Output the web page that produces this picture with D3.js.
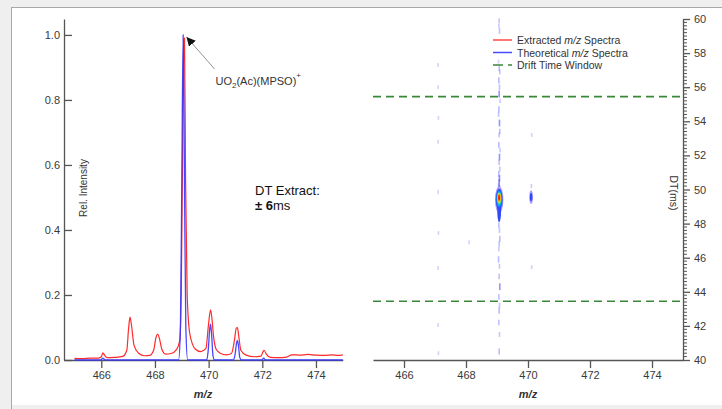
<!DOCTYPE html>
<html><head><meta charset="utf-8">
<script src="https://cdn.jsdelivr.net/npm/d3@7"></script>
<style>
html,body{margin:0;padding:0;background:#efefef;}
svg{display:block;font-family:"Liberation Sans",Arial,sans-serif;}
</style></head>
<body>
<script>
// ---------- DATA ----------
const mzTicks = [466, 468, 470, 472, 474];
const intensityTicks = [0, 0.2, 0.4, 0.6, 0.8, 1.0];
const dtTicks = [40, 42, 44, 46, 48, 50, 52, 54, 56, 58, 60];

// extracted m/z spectrum (red)
const extractedMz = [465.0,465.3,465.6,465.9,466.0,466.06,466.12,466.22,466.5,466.8,466.95,467.02,467.07,467.12,467.22,467.4,467.6,467.8,467.95,468.04,468.1,468.16,468.26,468.4,468.6,468.8,468.92,468.98,469.03,469.07,469.1,469.14,469.2,469.3,469.5,469.7,469.9,469.99,470.07,470.12,470.18,470.28,470.45,470.65,470.85,470.96,471.03,471.07,471.12,471.2,471.4,471.7,471.95,472.03,472.07,472.15,472.3,472.6,472.9,473.1,473.4,473.7,474.0,474.3,474.6,474.8,475.0];
const extractedInt = [0.005,0.004,0.006,0.006,0.010,0.022,0.015,0.007,0.008,0.011,0.030,0.100,0.132,0.110,0.045,0.020,0.013,0.014,0.030,0.070,0.080,0.068,0.032,0.018,0.020,0.032,0.058,0.210,0.650,0.985,0.990,0.560,0.200,0.080,0.034,0.026,0.036,0.105,0.154,0.130,0.075,0.033,0.020,0.016,0.020,0.060,0.098,0.100,0.075,0.030,0.015,0.010,0.012,0.026,0.030,0.018,0.008,0.007,0.009,0.016,0.015,0.017,0.015,0.014,0.016,0.014,0.016];

// theoretical m/z spectrum (blue)
const theoMz = [465.0,465.98,466.03,466.06,466.09,466.14,468.88,468.95,469.0,469.05,469.1,469.15,469.22,469.93,469.99,470.04,470.07,470.11,470.16,470.22,470.93,470.99,471.04,471.07,471.11,471.16,471.22,471.98,472.05,472.12,475.0];
const theoInt = [0,0,0.004,0.006,0.004,0,0,0.10,0.55,1.0,0.55,0.10,0,0,0.035,0.095,0.110,0.080,0.015,0,0,0.020,0.052,0.060,0.045,0.008,0,0,0.006,0,0];

// drift-time window (ms)
const dtWindow = [43.45, 55.45];

// 2-D drift-time map: contour levels of the two features [mz, dt, mzHalfWidth, dtHalfWidth, level]
const mainFeature = [
  [469.07, 49.40, 0.135, 0.78, 0],
  [469.07, 48.70, 0.060, 0.60, 1],
  [469.07, 49.42, 0.110, 0.62, 1],
  [469.07, 49.45, 0.090, 0.49, 2],
  [469.07, 49.47, 0.072, 0.39, 3],
  [469.07, 49.50, 0.058, 0.30, 4],
  [469.07, 49.52, 0.045, 0.23, 5],
  [469.07, 49.52, 0.032, 0.17, 6]
];
const minorFeature = [
  [470.10, 49.55, 0.060, 0.40, 0],
  [470.10, 49.55, 0.040, 0.24, 1]
];
// scattered low-intensity signal [mz, dt, relative level]
const noiseMz = [469.07,469.06,469.08,469.05,469.07,469.09,469.06,469.08,469.07,469.10,469.06,469.05,469.08,469.09,469.07,469.06,469.10,469.08,469.07,469.09,469.06,469.08,469.07,469.05,469.08,
  469.07,469.06,469.08,469.09,469.07,469.06,469.05,469.08,469.07,469.09,469.06,469.08,469.07,469.06,469.08,469.07,
  467.10,467.10,467.11,467.10,467.10,467.11,467.10,467.10,467.11, 468.10, 470.12,470.11,470.12];
const noiseDt = [59.9,59.6,59.3,57.5,57.1,56.9,56.4,56.0,55.6,55.2,54.7,54.4,53.9,53.4,53.2,52.6,52.3,51.9,51.6,51.2,50.9,50.65,50.4,50.2,50.05,
  48.3,47.9,47.6,47.1,46.8,46.5,45.9,45.5,44.9,44.3,43.7,43.2,42.9,42.2,41.5,40.5,
  57.3,56.0,54.2,52.8,49.85,47.45,45.4,42.05,40.4, 46.9, 53.2,50.2,45.45];
const noiseLevel = [0.5,0.4,0.6,0.3,0.6,0.5,0.7,0.6,0.8,0.4,0.7,0.5,0.8,0.6,0.5,0.7,0.4,0.8,0.6,0.5,0.7,0.8,0.9,0.7,0.9,
  0.8,0.6,0.5,0.7,0.6,0.4,0.7,0.5,0.6,0.8,0.6,0.5,0.7,0.6,0.5,0.7,
  0.3,0.3,0.3,0.3,0.3,0.3,0.3,0.3,0.3, 0.3, 0.3,0.4,0.3];

// legend
const legendLabels = [["Extracted ", "m/z", " Spectra"], ["Theoretical ", "m/z", " Spectra"], ["Drift Time Window", "", ""]];
const levelColors = ["#a898ff", "#3048ff", "#0098ff", "#28d0a0", "#d8e820", "#ff9800", "#ff2000"];

// ---------- DRAW ----------
const W = 722, H = 409;
const svg = d3.select("body").append("svg").attr("width", W).attr("height", H);

// panel
svg.append("rect").attr("x", 11).attr("y", 7).attr("width", W).attr("height", 398).attr("fill", "#ffffff");
svg.append("line").attr("x1", 11).attr("x2", W).attr("y1", 7.5).attr("y2", 7.5).attr("stroke", "#a8a8a8");
svg.append("line").attr("x1", 11.5).attr("x2", 11.5).attr("y1", 7).attr("y2", H).attr("stroke", "#a8a8a8");

const axisColor = "#555";
function styleAxis(g) {
  g.selectAll("path,line").attr("stroke", axisColor).attr("stroke-width", 1.3);
  g.selectAll("text").attr("fill", "#3a3a3a").attr("font-size", 11).attr("font-family", "Liberation Sans, Arial, sans-serif");
}

// ----- left spectrum -----
const xL = d3.scaleLinear().domain([464.61, 475]).range([64, 342.8]);
const yL = d3.scaleLinear().domain([0, 1.049]).range([360, 19]);

const gxL = svg.append("g").attr("transform", "translate(0,360)")
  .call(d3.axisBottom(xL).tickValues(mzTicks).tickFormat(d3.format("d")).tickSize(8).tickSizeOuter(0).tickPadding(3));
styleAxis(gxL);
const gyL = svg.append("g").attr("transform", "translate(64,0)")
  .call(d3.axisLeft(yL).tickValues(intensityTicks).tickFormat(d3.format(".1f")).tickSizeInner(-8).tickSizeOuter(0).tickPadding(4));
styleAxis(gyL);

const lineL = d3.line().x((d) => xL(d[0])).y((d) => yL(d[1])).curve(d3.curveMonotoneX);
svg.append("path").datum(d3.zip(extractedMz, extractedInt)).attr("d", lineL)
  .attr("fill", "none").attr("stroke", "#ff2a2a").attr("stroke-width", 1.2);
svg.append("path").datum(d3.zip(theoMz, theoInt)).attr("d", lineL)
  .attr("fill", "none").attr("stroke", "#3333ff").attr("stroke-width", 1.3).attr("opacity", 0.9);

svg.append("text").attr("x", 203).attr("y", 398).attr("text-anchor", "middle")
  .attr("font-size", 11).attr("font-weight", "bold").attr("font-style", "italic").attr("fill", "#333").text("m/z");
svg.append("text").attr("transform", "translate(87,188) rotate(-90)").attr("text-anchor", "middle")
  .attr("font-size", 10).attr("fill", "#333").text("Rel. Intensity");

// annotation
const tipX = xL(469.1) + 2, tipY = yL(1.0) + 2;
svg.append("defs").append("marker").attr("id", "ah").attr("viewBox", "0 0 10 10").attr("refX", 10).attr("refY", 5)
  .attr("markerWidth", 9).attr("markerHeight", 9).attr("markerUnits", "userSpaceOnUse").attr("orient", "auto")
  .append("path").attr("d", "M0,0 L10,5 L0,10 z").attr("fill", "#111");
svg.append("line").attr("x1", tipX + 28).attr("y1", tipY + 32).attr("x2", tipX).attr("y2", tipY)
  .attr("stroke", "#777").attr("stroke-width", 0.8).attr("marker-end", "url(#ah)");
const ann = svg.append("text").attr("x", tipX + 29).attr("y", 85).attr("font-size", 11).attr("fill", "#333");
ann.append("tspan").text("UO");
ann.append("tspan").attr("font-size", 8).attr("dy", 3).text("2");
ann.append("tspan").attr("dy", -3).text("(Ac)(MPSO)");
ann.append("tspan").attr("font-size", 8).attr("dy", -7).text("+");

svg.append("text").attr("x", 255).attr("y", 195).attr("font-size", 13).attr("fill", "#111").text("DT Extract:");
const dtt = svg.append("text").attr("x", 255).attr("y", 210).attr("font-size", 13).attr("fill", "#111");
dtt.append("tspan").attr("font-weight", "bold").text("± 6");
dtt.append("tspan").text("ms");

// ----- right map -----
const xR = d3.scaleLinear().domain([465, 475]).range([373, 683]);
const yR = d3.scaleLinear().domain([40, 60]).range([360, 19]);

// scattered signal
svg.append("g").selectAll("rect").data(d3.zip(noiseMz, noiseDt, noiseLevel)).join("rect")
  .attr("x", (d) => xR(d[0]) - 0.8).attr("y", (d) => yR(d[1]) - 1 - d[2] * 3)
  .attr("width", 1.6).attr("height", (d) => 2 + d[2] * 6)
  .attr("fill", (d) => (d[2] > 0.75 ? "#5a5aff" : "#8c8cff"))
  .attr("opacity", (d) => 0.25 + d[2] * 0.5);

function drawFeature(levels) {
  svg.append("g").selectAll("ellipse").data(levels).join("ellipse")
    .attr("cx", (d) => xR(d[0])).attr("cy", (d) => yR(d[1]))
    .attr("rx", (d) => xR(d[0] + d[2]) - xR(d[0]))
    .attr("ry", (d) => yR(d[1] - d[3]) - yR(d[1]))
    .attr("fill", (d) => levelColors[d[4]]);
}
drawFeature(mainFeature);
drawFeature(minorFeature);

// drift time window
svg.append("g").selectAll("line").data(dtWindow).join("line")
  .attr("x1", xR(465)).attr("x2", xR(475)).attr("y1", (d) => yR(d)).attr("y2", (d) => yR(d))
  .attr("stroke", "#3a873a").attr("stroke-width", 1.6).attr("stroke-dasharray", "8,5");

const gxR = svg.append("g").attr("transform", "translate(0,360)")
  .call(d3.axisBottom(xR).tickValues(mzTicks).tickFormat(d3.format("d")).tickSize(8).tickSizeOuter(0).tickPadding(3));
styleAxis(gxR);
const gyR = svg.append("g").attr("transform", "translate(683,0)")
  .call(d3.axisRight(yR).tickValues(dtTicks).tickFormat(d3.format("d")).tickSize(7).tickSizeOuter(0).tickPadding(4));
styleAxis(gyR);
const minorTicks = d3.range(40, 60.001, 0.2).filter((v) => Math.abs(v / 2 - Math.round(v / 2)) > 0.01);
svg.append("g").selectAll("line").data(minorTicks).join("line")
  .attr("x1", 683).attr("x2", 687).attr("y1", (d) => yR(d)).attr("y2", (d) => yR(d))
  .attr("stroke", axisColor).attr("stroke-width", 1);

svg.append("text").attr("x", 528).attr("y", 398).attr("text-anchor", "middle")
  .attr("font-size", 11).attr("font-weight", "bold").attr("font-style", "italic").attr("fill", "#333").text("m/z");
svg.append("text").attr("transform", "translate(670,193) rotate(90)").attr("text-anchor", "middle")
  .attr("font-size", 10.5).attr("fill", "#333").text("DT(ms)");

// legend
const lg = svg.append("g").attr("transform", "translate(493,40)");
const lgStyles = [["#ff4a4a", null], ["#4a4aff", null], ["#3a873a", "10,5"]];
legendLabels.forEach((lab, i) => {
  lg.append("line").attr("x1", 0).attr("x2", 19).attr("y1", i * 12.5).attr("y2", i * 12.5)
    .attr("stroke", lgStyles[i][0]).attr("stroke-width", 1.5).attr("stroke-dasharray", lgStyles[i][1]);
  const t = lg.append("text").attr("x", 24).attr("y", i * 12.5 + 4).attr("font-size", 10.5).attr("fill", "#333");
  t.append("tspan").text(lab[0]);
  if (lab[1]) t.append("tspan").attr("font-style", "italic").text(lab[1]);
  if (lab[2]) t.append("tspan").text(lab[2]);
});
</script>
</body></html>
